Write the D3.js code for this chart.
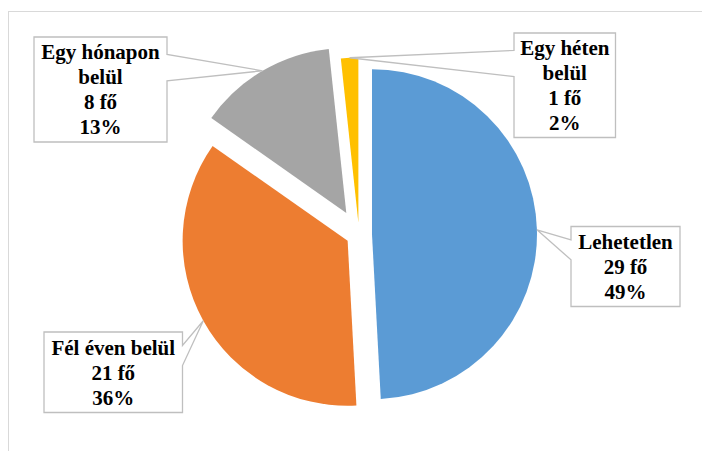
<!DOCTYPE html>
<html>
<head>
<meta charset="utf-8">
<script src="https://cdn.jsdelivr.net/npm/d3@7"></script>
<style>
  html, body { margin: 0; padding: 0; background: #fff; }
  svg { display: block; }
  .lbl { font-family: "Liberation Serif", "Times New Roman", "DejaVu Serif", serif; font-weight: bold; font-size: 21px; }
</style>
</head>
<body>
<div id="chart"></div>
<script>
// Survey answers: how soon respondents could do it
const categories = ["Lehetetlen", "Fél éven belül", "Egy hónapon belül", "Egy héten belül"];
const labelLines = [["Lehetetlen"], ["Fél éven belül"], ["Egy hónapon", "belül"], ["Egy héten", "belül"]];
const counts = [29, 21, 8, 1];
const countLabels = ["29 fő", "21 fő", "8 fő", "1 fő"];
const percentLabels = ["49%", "36%", "13%", "2%"];
const colors = ["#5B9BD5", "#ED7D31", "#A5A5A5", "#FFC000"];

const W = 702, H = 451;
const cx = 359, cy = 234.5, R = 165;
// how far each slice is pulled out from the centre
const explode = [13, 13, 25, 12];
// callout boxes [x0, y0, x1, y1]
const boxes = [
  [571, 226.5, 680, 306.5],
  [44, 332, 182.5, 412.5],
  [34, 37, 167, 142],
  [514, 33, 615.5, 137.5]
];

const svg = d3.select("#chart").append("svg")
  .attr("width", W).attr("height", H);

// chart area border
svg.append("rect")
  .attr("x", 8.5).attr("y", 11.5)
  .attr("width", 900).attr("height", 600)
  .attr("fill", "none").attr("stroke", "#d9d9d9").attr("stroke-width", 1);

const pie = d3.pie().sort(null).value(d => d);
const arcs = pie(counts);
const arc = d3.arc().innerRadius(0).outerRadius(R);

const slices = arcs.map((a, i) => {
  const mid = (a.startAngle + a.endAngle) / 2;
  const ox = cx + Math.sin(mid) * explode[i];
  const oy = cy - Math.cos(mid) * explode[i];
  return {
    a, i, ox, oy,
    tip: [ox + Math.sin(mid) * R, oy - Math.cos(mid) * R]
  };
});

svg.append("g").selectAll("path")
  .data(slices)
  .join("path")
  .attr("transform", d => `translate(${d.ox},${d.oy})`)
  .attr("d", d => arc(d.a))
  .attr("fill", d => colors[d.i]);

// rectangular callout with a wedge pointing at the slice
function calloutPath(b, tip) {
  const [x0, y0, x1, y1] = b;
  const h = y1 - y0;
  const above = tip[1] < (y0 + y1) / 2;
  const yb1 = y0 + h * (above ? 2 : 7) / 12;
  const yb2 = y0 + h * (above ? 5 : 10) / 12;
  if (tip[0] > x1) {
    return `M${x0},${y0}L${x1},${y0}L${x1},${yb1}L${tip[0]},${tip[1]}L${x1},${yb2}L${x1},${y1}L${x0},${y1}Z`;
  }
  return `M${x0},${y0}L${x1},${y0}L${x1},${y1}L${x0},${y1}L${x0},${yb2}L${tip[0]},${tip[1]}L${x0},${yb1}Z`;
}

const callouts = svg.append("g").selectAll("g")
  .data(slices)
  .join("g");

callouts.append("path")
  .attr("d", d => calloutPath(boxes[d.i], d.tip))
  .attr("fill", "#fff")
  .attr("stroke", "#bfbfbf")
  .attr("stroke-width", 1.3)
  .attr("stroke-linejoin", "miter");

const lineH = 25;
callouts.each(function (d) {
  const b = boxes[d.i];
  const lines = labelLines[d.i].concat([countLabels[d.i], percentLabels[d.i]]);
  const mx = (b[0] + b[2]) / 2;
  const my = (b[1] + b[3]) / 2;
  const start = my - (lines.length - 1) * lineH / 2;
  d3.select(this).append("text")
    .attr("class", "lbl")
    .attr("fill", "#000")
    .attr("text-anchor", "middle")
    .selectAll("tspan")
    .data(lines)
    .join("tspan")
    .attr("x", mx)
    .attr("y", (t, k) => start + k * lineH)
    .attr("dy", "0.35em")
    .text(t => t);
});
</script>
</body>
</html>
